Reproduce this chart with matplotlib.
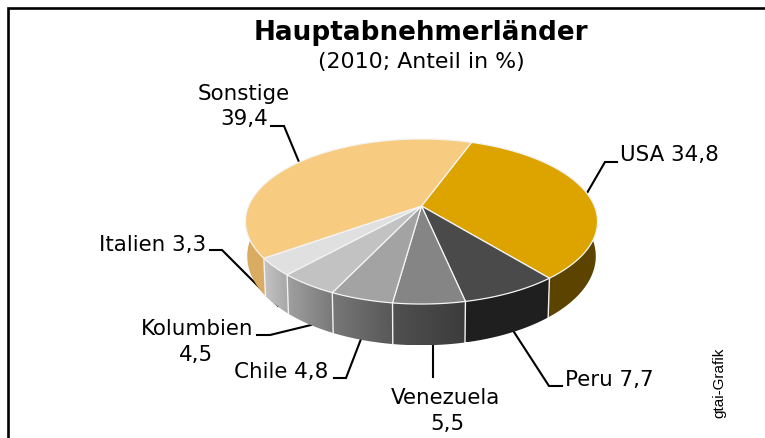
import numpy as np
import matplotlib
matplotlib.use("Agg")
import matplotlib.pyplot as plt
from matplotlib.patches import Polygon

# data, clockwise from the USA slice
countries = ["USA", "Peru", "Venezuela", "Chile", "Kolumbien", "Italien", "Sonstige"]
shares = [34.8, 7.7, 5.5, 4.8, 4.5, 3.3, 39.4]

top_colors = ["#DDA400", "#4A4A4A", "#858585", "#A3A3A3", "#C2C2C2", "#E0E0E0", "#F7CB80"]
wall_left = ["#5C4300", "#1F1F1F", "#505050", "#787878", "#A0A0A0", "#C4C4C4", "#D9AC62"]
wall_right = ["#5C4300", "#1F1F1F", "#3C3C3C", "#585858", "#787878", "#A6A6A6", "#D9AC62"]

# pixel layout of the fake 3d pie
cx, cy = 421.5, 207
a, b, k = 172.9, 79.6, 0.188
wall_h = 33.5
start_angle = 17.5
skew = 2.5  # the view is a bit turned, front slices sit further right


def project(theta, low=False):
    # theta in degrees, from top going clockwise
    t = np.radians(theta + skew * np.cos(np.radians(theta)))
    X = np.sin(t)
    Y = -np.cos(t)
    w = 1 - k * Y
    px = a * X / w
    py = b * Y / w
    if low:
        return cx + px * 0.99, cy + py + wall_h / w
    return cx + px, cy + py


fig = plt.figure(figsize=(7.65, 4.39), dpi=100)
ax = fig.add_axes([0, 0, 1, 1])
ax.set_xlim(0, 765)
ax.set_ylim(439, 0)
ax.axis("off")

edges = start_angle + np.cumsum([0] + shares) * 3.6

# side walls
for i in range(len(shares)):
    th = np.linspace(edges[i], edges[i + 1], 120)
    x1, y1 = project(th)
    x2, y2 = project(th[::-1], low=True)
    pts = np.column_stack([np.r_[x1, x2], np.r_[y1, y2]])
    poly = Polygon(pts, closed=True, facecolor="none", edgecolor="none", zorder=2)
    ax.add_patch(poly)
    c1 = np.array(matplotlib.colors.to_rgb(wall_left[i]))
    c2 = np.array(matplotlib.colors.to_rgb(wall_right[i]))
    grad = np.linspace(0, 1, 64)[None, :, None] * (c2 - c1) + c1
    im = ax.imshow(grad, extent=(pts[:, 0].min(), pts[:, 0].max(), pts[:, 1].max(), pts[:, 1].min()),
                   aspect="auto", interpolation="bilinear", zorder=2)
    im.set_clip_path(poly)

ax.set_xlim(0, 765)
ax.set_ylim(439, 0)

# white separators on the front wall
for e in edges[1:-1]:
    x1, y1 = project(e)
    x2, y2 = project(e, low=True)
    ax.plot([x1, x2], [y1, y2], color="#F2F2F2", lw=1.0, zorder=3)

# top of the pie
for i in range(len(shares)):
    th = np.linspace(edges[i], edges[i + 1], 120)
    x1, y1 = project(th)
    pts = np.column_stack([np.r_[cx, x1], np.r_[cy, y1]])
    ax.add_patch(Polygon(pts, closed=True, facecolor=top_colors[i], edgecolor="#F4F4F4",
                         lw=0.9, joinstyle="round", zorder=4))

# leader lines
leaders = [
    ([587, 605, 617], [194, 163, 163]),
    ([514, 549, 562], [333, 387, 387]),
    ([433, 433], [345, 378]),
    ([361, 346, 334], [340, 379, 379]),
    ([311, 270, 257], [326, 336, 336]),
    ([278, 222, 210], [307, 251, 251]),
    ([299, 284, 271], [163, 127, 127]),
]
for lx, ly in leaders:
    ax.plot(lx, ly, color="black", lw=1.5, solid_joinstyle="miter", zorder=1)

# frame, open on the right and at the bottom
ax.plot([8.5, 8.5, 765], [439, 9, 9], color="black", lw=1.9, solid_joinstyle="miter", zorder=1)

# titles
ax.text(421, 33, "Hauptabnehmerländer", fontsize=18.9, fontweight="bold", ha="center", va="center")
ax.text(421, 62, "(2010; Anteil in %)", fontsize=15.8, ha="center", va="center")

# labels
lab = dict(fontsize=15.4, va="center")
ax.text(620, 155, f"{countries[0]} 34,8", ha="left", **lab)
ax.text(565, 380, f"{countries[1]} 7,7", ha="left", **lab)
ax.text(446, 398, countries[2], ha="center", **lab)
ax.text(447, 424, "5,5", ha="center", **lab)
ax.text(328, 372, f"{countries[3]} 4,8", ha="right", **lab)
ax.text(253, 329, countries[4], ha="right", **lab)
ax.text(196, 355, "4,5", ha="center", **lab)
ax.text(206, 245, f"{countries[5]} 3,3", ha="right", **lab)
ax.text(244, 94, countries[6], ha="center", **lab)
ax.text(268, 119, "39,4", ha="right", **lab)

ax.text(719, 383, "gtai-Grafik", fontsize=11, family="Liberation Sans", rotation=90,
        ha="center", va="center")

fig.savefig("out.png", dpi=100)
